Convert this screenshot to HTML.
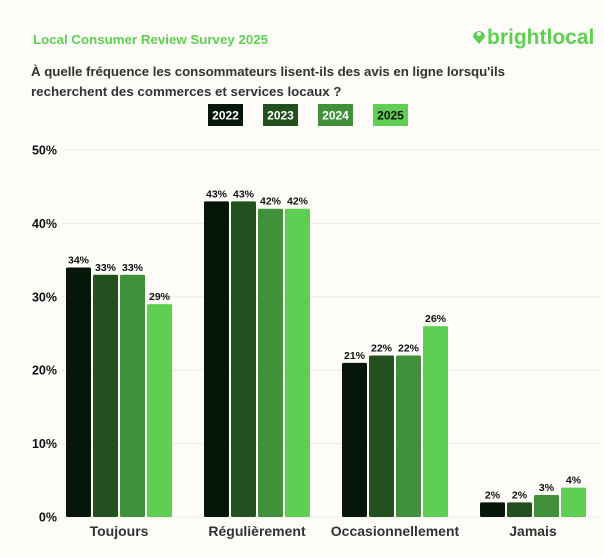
<!DOCTYPE html>
<html><head><meta charset="utf-8"><style>
body{margin:0;background:#fdfcf8;}
svg{display:block;font-family:"Liberation Sans",sans-serif;}
</style></head><body>
<svg id="c" width="604" height="557" viewBox="0 0 604 557">
<rect width="604" height="557" fill="#fdfcf8"/>
<text x="33" y="44" fill="#5ecf52" font-size="13.3" font-weight="bold">Local Consumer Review Survey 2025</text>
<g>
<path d="M479 44 l-6 -7 a4.5 4.5 0 1 1 12 0 z" fill="#5ecf52"/>
<circle cx="479" cy="34" r="2" fill="#fdfcf8"/>
<text x="487" y="44" fill="#5ecf52" font-size="21" font-weight="bold">brightlocal</text>
</g>
<text x="31" y="76" fill="#333" font-size="13.3" font-weight="bold" textLength="474">À quelle fréquence les consommateurs lisent-ils des avis en ligne lorsqu'ils</text>
<text x="31" y="96" fill="#333" font-size="13.3" font-weight="bold">recherchent des commerces et services locaux ?</text>
<g id="legend"></g>
<g id="grid"></g>
<g id="yaxis"></g>
<g id="bars"></g>
<g id="xaxis"></g>
</svg>
<script>
const categories=["Toujours","Régulièrement","Occasionnellement","Jamais"];
const seriesNames=["2022","2023","2024","2025"];
const v2022=[34,43,21,2];
const v2023=[33,43,22,2];
const v2024=[33,42,22,3];
const v2025=[29,42,26,4];
const yTicks=[0,10,20,30,40,50];
const series=[v2022,v2023,v2024,v2025];
const colors=["#06170a","#22511f","#41903a","#5ecf52"];
const NS="http://www.w3.org/2000/svg";
const y0=517,y1=150,yMax=50,px0=50,px1=602;
const y=v=>y0-(v/yMax)*(y0-y1);
const gw=(px1-px0)/categories.length;
const bw=25,gap=2;
function mk(t,a,p){const e=document.createElementNS(NS,t);for(const k in a)e.setAttribute(k,a[k]);p.appendChild(e);return e;}
const grid=document.getElementById('grid'),ya=document.getElementById('yaxis'),bars=document.getElementById('bars'),xa=document.getElementById('xaxis'),lg=document.getElementById('legend');
yTicks.forEach(t=>{
 const l=mk('line',{x1:62,x2:601,y1:y(t),y2:y(t),stroke:'#ebeae4','stroke-width':1},grid);
 
 
 const tx=mk('text',{x:57,y:y(t)+4.5,'text-anchor':'end','font-size':12.5,'font-weight':'bold',fill:'#111'},ya);
 tx.textContent=t+'%';
 
 
});
categories.forEach((c,i)=>{
 const cx=px0+gw*(i+0.5);
 const total=4*bw+3*gap;
 series.forEach((s,j)=>{
  const x=cx-total/2+j*(bw+gap);
  const r=mk('rect',{x:x,y:y(s[i]),width:bw,height:y0-y(s[i]),fill:colors[j],rx:1.5},bars);
  
  
  const t=mk('text',{x:x+bw/2,y:y(s[i])-4,'text-anchor':'middle','font-size':10.5,'font-weight':'bold',fill:'#111'},bars);
  t.textContent=s[i]+'%';
  
  
 });
 const t=mk('text',{x:cx,y:536,'text-anchor':'middle','font-size':14,'font-weight':'bold',fill:'#333'},xa);
 t.textContent=c;
 
 
});
seriesNames.forEach((n,j)=>{
 const x=208+j*55;
 const r=mk('rect',{x:x,y:104,width:35,height:22,fill:colors[j]},lg);
 
 
 const t=mk('text',{x:x+17.5,y:119.5,'text-anchor':'middle','font-size':12,'font-weight':'bold',fill:j==3?'#111':'#fff'},lg);
 t.textContent=n;
 
 
});
</script>
</body></html>
